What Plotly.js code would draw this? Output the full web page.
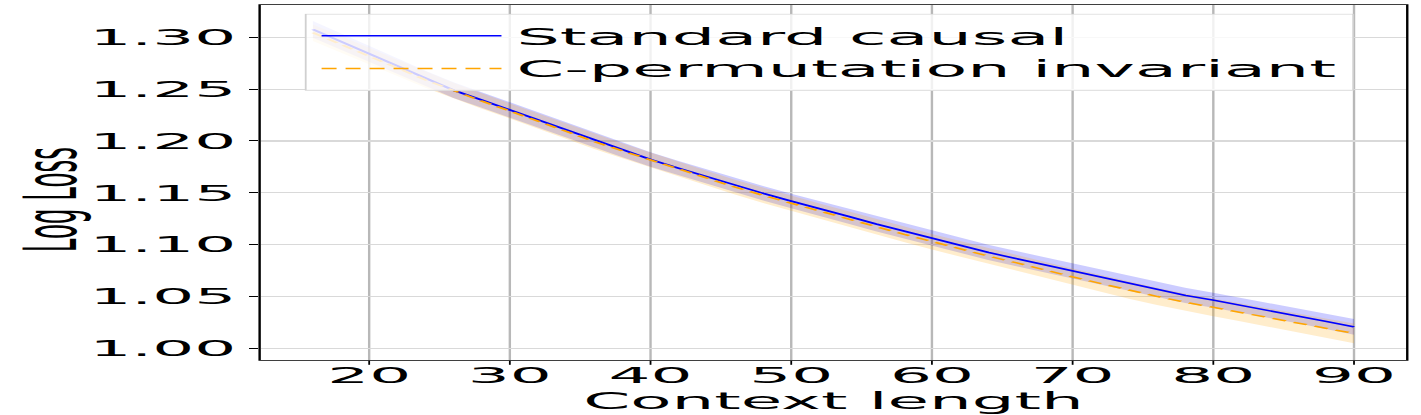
<!DOCTYPE html>
<html>
<head>
<meta charset="utf-8">
<script src="https://cdn.plot.ly/plotly-3.0.1.min.js"></script>
<style>
  html, body { margin: 0; padding: 0; background: #fff; }
  #wrap { width: 1421px; height: 415px; overflow: hidden; }
  #plot { width: 474px; height: 415px; transform: scaleX(2.998); transform-origin: 0 0; }
</style>
</head>
<body>
<div id="wrap"><div id="plot"></div></div>
<script>
// Context lengths
const contextLength = [16,18,20,22,24,26,28,30,32,34,36,38,40,42,44,46,48,50,52,54,56,58,60,62,64,66,68,70,72,74,76,78,80,82,84,86,88,90];

// Standard causal: mean log loss and spread
const standardMean = [1.3077,1.2960,1.2840,1.2720,1.2600,1.2490,1.2395,1.2298,1.2200,1.2105,1.2010,1.1915,1.1822,1.1738,1.1655,1.1570,1.1495,1.1420,1.1350,1.1275,1.1200,1.1130,1.1060,1.0995,1.0925,1.0865,1.0805,1.0747,1.0690,1.0625,1.0565,1.0510,1.0464,1.0415,1.0365,1.0315,1.0260,1.0207];
const standardStd = [0.0080,0.0080,0.0079,0.0078,0.0077,0.0076,0.0075,0.0075,0.0074,0.0073,0.0072,0.0071,0.0070,0.0070,0.0070,0.0070,0.0070,0.0070,0.0070,0.0071,0.0071,0.0072,0.0072,0.0072,0.0073,0.0073,0.0073,0.0074,0.0074,0.0074,0.0074,0.0073,0.0072,0.0072,0.0073,0.0074,0.0075,0.0076];

// C-permutation invariant: mean log loss and spread
const permMean = [1.3045,1.2935,1.2820,1.2705,1.2590,1.2485,1.2385,1.2290,1.2190,1.2095,1.1995,1.1905,1.1816,1.1725,1.1640,1.1555,1.1475,1.1398,1.1325,1.1250,1.1175,1.1100,1.1027,1.0960,1.0890,1.0825,1.0755,1.0689,1.0625,1.0560,1.0500,1.0445,1.0394,1.0345,1.0295,1.0245,1.0195,1.0143];
const permStd = [0.0080,0.0080,0.0079,0.0078,0.0077,0.0076,0.0075,0.0074,0.0073,0.0073,0.0072,0.0072,0.0072,0.0072,0.0072,0.0072,0.0073,0.0073,0.0073,0.0074,0.0074,0.0075,0.0075,0.0076,0.0077,0.0078,0.0079,0.0080,0.0081,0.0082,0.0083,0.0084,0.0085,0.0087,0.0089,0.0091,0.0093,0.0095];

const seriesNames = ['Standard causal', 'C-permutation invariant'];
const yTicks = [1.00, 1.05, 1.10, 1.15, 1.20, 1.25, 1.30];
const xTicks = [20, 30, 40, 50, 60, 70, 80, 90];

const lower = (m, s) => m.map((v, i) => v - s[i]);
const upper = (m, s) => m.map((v, i) => v + s[i]);

const FONT = 'DejaVu Sans, sans-serif';

const traces = [
  { x: contextLength, y: lower(standardMean, standardStd), mode: 'lines', line: {width: 0}, showlegend: false, hoverinfo: 'skip' },
  { x: contextLength, y: upper(standardMean, standardStd), mode: 'lines', line: {width: 0}, fill: 'tonexty', fillcolor: 'rgba(0,0,255,0.2)', showlegend: false, hoverinfo: 'skip' },
  { x: contextLength, y: lower(permMean, permStd), mode: 'lines', line: {width: 0}, showlegend: false, hoverinfo: 'skip' },
  { x: contextLength, y: upper(permMean, permStd), mode: 'lines', line: {width: 0}, fill: 'tonexty', fillcolor: 'rgba(255,165,0,0.2)', showlegend: false, hoverinfo: 'skip' },
  { x: contextLength, y: standardMean, mode: 'lines', name: seriesNames[0], line: {color: '#0000ff', width: 1.4} },
  { x: contextLength, y: permMean, mode: 'lines', name: seriesNames[1], line: {color: '#ffa500', width: 1.4, dash: '5px,3px'} }
];

const layout = {
  width: 474, height: 415,
  margin: {l: 86.7, r: 5.4, t: 5, b: 55, pad: 0},
  paper_bgcolor: '#ffffff', plot_bgcolor: '#ffffff',
  font: {family: FONT, color: '#000', size: 22},
  showlegend: true,
  legend: {
    x: 0.0384, y: 0.975, xanchor: 'left', yanchor: 'top',
    traceorder: 'normal',
    bgcolor: 'rgba(255,255,255,0.8)', bordercolor: '#d0d0d0', borderwidth: 0.6,
    font: {family: FONT, size: 22.8, color: '#000'},
    itemwidth: 60, tracegroupgap: 0
  },
  xaxis: {
    range: [12.3, 93.7], tickvals: xTicks, ticktext: xTicks.map(String),
    showgrid: true, gridcolor: '#b8b8b8', gridwidth: 0.8,
    showline: true, linecolor: '#000', linewidth: 0.8, mirror: true,
    ticks: 'outside', ticklen: 4, tickwidth: 0.6, tickcolor: '#000',
    ticklabelstandoff: -8,
    tickfont: {family: FONT, size: 22, color: '#000'},
    zeroline: false,
    title: {text: 'Context length', font: {family: FONT, size: 22.5, color: '#000'}, standoff: 5}
  },
  yaxis: {
    range: [0.9887, 1.3312], tickvals: yTicks, ticktext: yTicks.map(v => v.toFixed(2)),
    showgrid: true, gridcolor: '#d9d9d9', gridwidth: 1.3,
    showline: true, linecolor: '#000', linewidth: 0.8, mirror: true,
    ticks: 'outside', ticklen: 3, tickwidth: 1, tickcolor: '#000',
    tickfont: {family: FONT, size: 22, color: '#000'},
    zeroline: false
  },
  annotations: [{
    text: 'Log Loss', textangle: -90, showarrow: false,
    xref: 'paper', yref: 'paper', x: -0.1851, y: 0.4507,
    xanchor: 'center', yanchor: 'middle',
    font: {family: FONT, size: 24.5, color: '#000'}
  }]
};

Plotly.newPlot('plot', traces, layout, {staticPlot: true, displayModeBar: false});
</script>
</body>
</html>
